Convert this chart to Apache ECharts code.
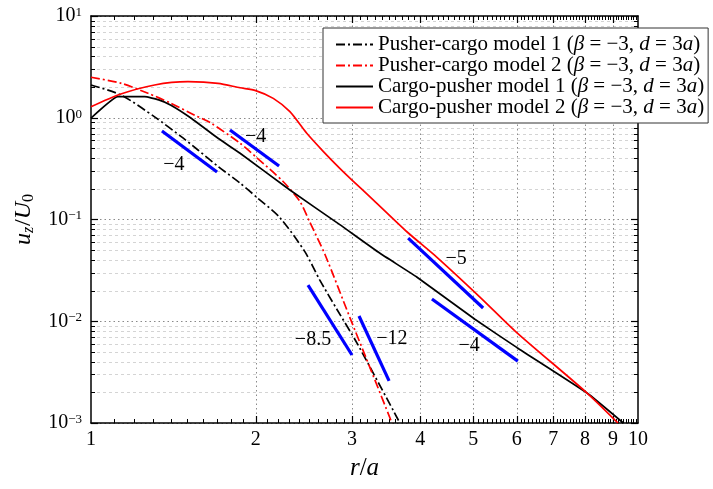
<!DOCTYPE html>
<html>
<head>
<meta charset="utf-8">
<script src="https://cdn.jsdelivr.net/npm/echarts@6/dist/echarts.min.js"></script>
<style>
  html, body { margin: 0; padding: 0; background: #fff; }
  #chart { width: 713px; height: 489px; }
</style>
</head>
<body>
<div id="chart"></div>
<script>
// Axis extents and tick labels
const X_MIN = 1, X_MAX = 10;
const Y_MIN = 0.001, Y_MAX = 10;
const xTickValues = [1, 2, 3, 4, 5, 6, 7, 8, 9, 10];
const xTickLabels = ['1', '2', '3', '4', '5', '6', '7', '8', '9', '10'];
const yDecades = [0.001, 0.01, 0.1, 1];
const minorSteps = [2, 3, 4, 5, 6, 7, 8, 9];

// Series names
const seriesNames = [
  'Pusher-cargo model 1 (β = −3, d = 3a)',
  'Pusher-cargo model 2 (β = −3, d = 3a)',
  'Cargo-pusher model 1 (β = −3, d = 3a)',
  'Cargo-pusher model 2 (β = −3, d = 3a)'
];
const legendRich = [
  'Pusher-cargo model 1 ({i|β} = −3, {i|d} = 3{i|a})',
  'Pusher-cargo model 2 ({i|β} = −3, {i|d} = 3{i|a})',
  'Cargo-pusher model 1 ({i|β} = −3, {i|d} = 3{i|a})',
  'Cargo-pusher model 2 ({i|β} = −3, {i|d} = 3{i|a})'
];

// u_z/U_0 against r/a
const pusherCargo1 = [
  [1.0, 2.10], [1.136, 1.67], [1.307, 1.02], [1.462, 0.652], [1.569, 0.482],
  [1.71, 0.33], [1.873, 0.228], [2.01, 0.165], [2.216, 0.104], [2.46, 0.0483],
  [2.62, 0.0254], [2.82, 0.0129], [3.064, 0.0061], [3.67, 0.001]
];
const pusherCargo2 = [
  [1.0, 2.50], [1.136, 2.18], [1.271, 1.74], [1.40, 1.39], [1.547, 1.06],
  [1.66, 0.882], [1.873, 0.561], [2.0, 0.414], [2.247, 0.235], [2.41, 0.150],
  [2.51, 0.095], [2.68, 0.0448], [2.975, 0.0108], [3.236, 0.0035], [3.55, 0.001]
];
const cargoPusher1 = [
  [1.0, 0.99], [1.12, 1.61], [1.254, 1.61], [1.33, 1.50], [1.40, 1.33],
  [1.525, 0.99], [1.707, 0.628], [1.873, 0.448], [2.31, 0.195], [2.85, 0.089],
  [3.37, 0.0468], [3.94, 0.0272], [5.04, 0.0104], [6.01, 0.0055], [8.07, 0.00197],
  [9.4, 0.001]
];
const cargoPusher2 = [
  [1.0, 1.28], [1.13, 1.70], [1.307, 2.10], [1.504, 2.26], [1.707, 2.18],
  [1.873, 1.97], [2.0, 1.85], [2.154, 1.55], [2.31, 1.147], [2.48, 0.703],
  [2.66, 0.465], [2.85, 0.318], [3.0, 0.244], [3.28, 0.156], [3.78, 0.0758],
  [4.29, 0.0425], [5.14, 0.0173], [6.01, 0.0077], [8.07, 0.00197], [9.19, 0.001]
];

// Power-law reference slopes
const slopeSegments = [
  [[1.348, 0.741], [1.70, 0.293]],
  [[1.795, 0.758], [2.207, 0.336]],
  [[2.493, 0.0227], [3.0, 0.00466]],
  [[3.09, 0.01127], [3.507, 0.00259]],
  [[3.80, 0.0657], [5.21, 0.0135]],
  [[4.20, 0.01656], [6.03, 0.00406]]
];
const slopeLabelText = ['−4', '−4', '−8.5', '−12', '−5', '−4'];
const slopeLabelPos = [
  [1.418, 0.343], [2.0, 0.647], [2.546, 0.00655], [3.55, 0.0067], [4.65, 0.0409], [4.91, 0.00572]
];

const SERIF = 'Liberation Serif';

// Minor tick positions between labelled ticks
const xMinor = [];
for (let k = 1; k < 10; k++) {
  for (let j = 1; j < 10; j++) xMinor.push([Math.round((k + j / 10) * 10) / 10, 1]);
}
const xMajor = xTickValues.slice(1, -1).map(v => [v, 1]);
const yMinor = [];
yDecades.forEach(d => minorSteps.forEach(m => yMinor.push([1, +(d * m).toPrecision(3)])));

function px(v) { return Math.round(v) + 0.5; }

function renderXMinor(params, api) {
  const v = api.value(0);
  const b = api.coord([v, Y_MIN]);
  const t = api.coord([v, Y_MAX]);
  const x = px(b[0]);
  return { type: 'group', children: [
    { type: 'line', shape: { x1: x, y1: b[1], x2: x, y2: b[1] - 4 }, style: { stroke: '#000', lineWidth: 1 } },
    { type: 'line', shape: { x1: x, y1: t[1], x2: x, y2: t[1] + 4 }, style: { stroke: '#000', lineWidth: 1 } }
  ] };
}
function renderXMajor(params, api) {
  const v = api.value(0);
  const b = api.coord([v, Y_MIN]);
  const t = api.coord([v, Y_MAX]);
  const x = px(b[0]);
  return { type: 'group', children: [
    { type: 'line', shape: { x1: x, y1: b[1], x2: x, y2: t[1] }, style: { stroke: '#8a8a8a', lineWidth: 1, lineDash: [1.5, 3] } },
    { type: 'line', shape: { x1: x, y1: b[1], x2: x, y2: b[1] - 7 }, style: { stroke: '#000', lineWidth: 1.2 } },
    { type: 'line', shape: { x1: x, y1: t[1], x2: x, y2: t[1] + 7 }, style: { stroke: '#000', lineWidth: 1.2 } }
  ] };
}
function renderYMinor(params, api) {
  const v = api.value(1);
  const l = api.coord([X_MIN, v]);
  const r = api.coord([X_MAX, v]);
  const y = px(l[1]);
  return { type: 'group', children: [
    { type: 'line', shape: { x1: l[0], y1: y, x2: r[0], y2: y }, style: { stroke: '#d4d4d4', lineWidth: 1, lineDash: [3, 3] } },
    { type: 'line', shape: { x1: l[0], y1: y, x2: l[0] + 4, y2: y }, style: { stroke: '#000', lineWidth: 1 } },
    { type: 'line', shape: { x1: r[0], y1: y, x2: r[0] - 4, y2: y }, style: { stroke: '#000', lineWidth: 1 } }
  ] };
}
function renderXLabels(params, api) {
  const v = api.value(0);
  const b = api.coord([v, Y_MIN]);
  return { type: 'text', x: b[0], y: b[1] + 17, style: {
    text: xTickLabels[params.dataIndex], fill: '#000', font: '20px "' + SERIF + '"',
    align: 'center', verticalAlign: 'middle'
  } };
}
function renderSlopeLabels(params, api) {
  const p = api.coord([api.value(0), api.value(1)]);
  return { type: 'text', x: p[0], y: p[1], style: {
    text: slopeLabelText[params.dataIndex], fill: '#000', font: '20px "' + SERIF + '"',
    align: 'center', verticalAlign: 'middle'
  } };
}

const curveStyles = [
  { color: '#000000', type: [9, 3, 2, 3], smooth: 0.25 },
  { color: '#ff0000', type: [9, 3, 2, 3], smooth: 0.25 },
  { color: '#000000', type: 'solid', smooth: 0.12 },
  { color: '#ff0000', type: 'solid', smooth: 0.25 }
];
const curveData = [pusherCargo1, pusherCargo2, cargoPusher1, cargoPusher2];

const axisLineStyle = { color: '#000', width: 1.5 };

const series = [
  { type: 'custom', renderItem: renderYMinor, data: yMinor, z: 1, silent: true },
  { type: 'custom', renderItem: renderXMinor, data: xMinor, z: 1, silent: true },
  { type: 'custom', renderItem: renderXMajor, data: xMajor, z: 1, silent: true },
  { type: 'custom', renderItem: renderXLabels, data: xTickValues.map(v => [v, 1]), z: 5, silent: true }
];
slopeSegments.forEach(seg => series.push({
  type: 'line', data: seg, symbol: 'none', showSymbol: false, silent: true, z: 3,
  lineStyle: { color: '#0000ff', width: 3.2, cap: 'butt' }
}));
curveData.forEach((d, i) => series.push({
  name: seriesNames[i], type: 'line', data: d, symbol: 'none', showSymbol: false,
  smooth: curveStyles[i].smooth, z: 4,
  itemStyle: { color: curveStyles[i].color },
  lineStyle: { color: curveStyles[i].color, width: 1.7, type: curveStyles[i].type }
}));
series.push({ type: 'custom', renderItem: renderSlopeLabels, data: slopeLabelPos, z: 5, silent: true });

const chart = echarts.init(document.getElementById('chart'), null, { renderer: 'canvas' });
chart.setOption({
  animation: false,
  backgroundColor: '#fff',
  grid: { left: 91, top: 16, right: 75, bottom: 66 },
  xAxis: [
    {
      type: 'log', logBase: 10, min: X_MIN, max: X_MAX, position: 'bottom',
      name: '{i|r}{n|/}{i|a}', nameLocation: 'middle', nameGap: 33,
      nameTextStyle: { rich: {
        i: { fontFamily: SERIF, fontSize: 25, fontStyle: 'italic', color: '#000' },
        n: { fontFamily: SERIF, fontSize: 25, color: '#000' }
      } },
      axisLine: { show: true, lineStyle: axisLineStyle },
      axisTick: { show: false }, axisLabel: { show: false }, splitLine: { show: false }
    },
    {
      type: 'log', logBase: 10, min: X_MIN, max: X_MAX, position: 'top',
      axisLine: { show: true, lineStyle: axisLineStyle },
      axisTick: { show: false }, axisLabel: { show: false }, splitLine: { show: false }
    }
  ],
  yAxis: [
    {
      type: 'log', logBase: 10, min: Y_MIN, max: Y_MAX, position: 'left',
      name: '{i|u}{sb|z}{n|/}{i|U}{s0|0}', nameLocation: 'middle', nameGap: 50,
      nameTextStyle: { rich: {
        i: { fontFamily: SERIF, fontSize: 24, fontStyle: 'italic', color: '#000', verticalAlign: 'top', lineHeight: 24 },
        n: { fontFamily: SERIF, fontSize: 24, color: '#000', verticalAlign: 'top', lineHeight: 24 },
        sb: { fontFamily: SERIF, fontSize: 16, fontStyle: 'italic', color: '#000', verticalAlign: 'top', lineHeight: 16, padding: [10, 1, 0, 0] },
        s0: { fontFamily: SERIF, fontSize: 16, color: '#000', verticalAlign: 'top', lineHeight: 16, padding: [10, 0, 0, 0] }
      } },
      axisLine: { show: true, lineStyle: axisLineStyle },
      axisTick: { show: true, inside: true, length: 7, lineStyle: { color: '#000', width: 1.2 } },
      axisLabel: {
        margin: 9,
        formatter: v => {
          const e = Math.round(Math.log10(v));
          return '{b|10}{s|' + (e < 0 ? '−' + (-e) : String(e)) + '}';
        },
        rich: {
          b: { fontFamily: SERIF, fontSize: 20, color: '#000', verticalAlign: 'bottom', lineHeight: 20 },
          s: { fontFamily: SERIF, fontSize: 13, color: '#000', verticalAlign: 'top', lineHeight: 13, padding: [0, 0, 13, 0] }
        }
      },
      splitLine: { show: true, lineStyle: { color: '#8a8a8a', width: 1, type: [1.5, 3] } }
    },
    {
      type: 'log', logBase: 10, min: Y_MIN, max: Y_MAX, position: 'right',
      axisLine: { show: true, lineStyle: axisLineStyle },
      axisTick: { show: true, inside: true, length: 7, lineStyle: { color: '#000', width: 1.2 } },
      axisLabel: { show: false }, splitLine: { show: false }
    }
  ],
  legend: {
    data: seriesNames,
    orient: 'vertical', left: 323, top: 28,
    backgroundColor: '#fff', borderColor: '#333', borderWidth: 1,
    padding: [6, 4, 5, 12], itemGap: 0, itemWidth: 37, itemHeight: 12,
    itemStyle: { opacity: 0 },
    formatter: name => legendRich[seriesNames.indexOf(name)],
    textStyle: {
      fontFamily: SERIF, fontSize: 21, color: '#000', lineHeight: 20,
      rich: { i: { fontFamily: SERIF, fontSize: 21, fontStyle: 'italic', color: '#000', lineHeight: 20 } }
    },
    selectedMode: false
  },
  series: series
});
</script>
</body>
</html>
